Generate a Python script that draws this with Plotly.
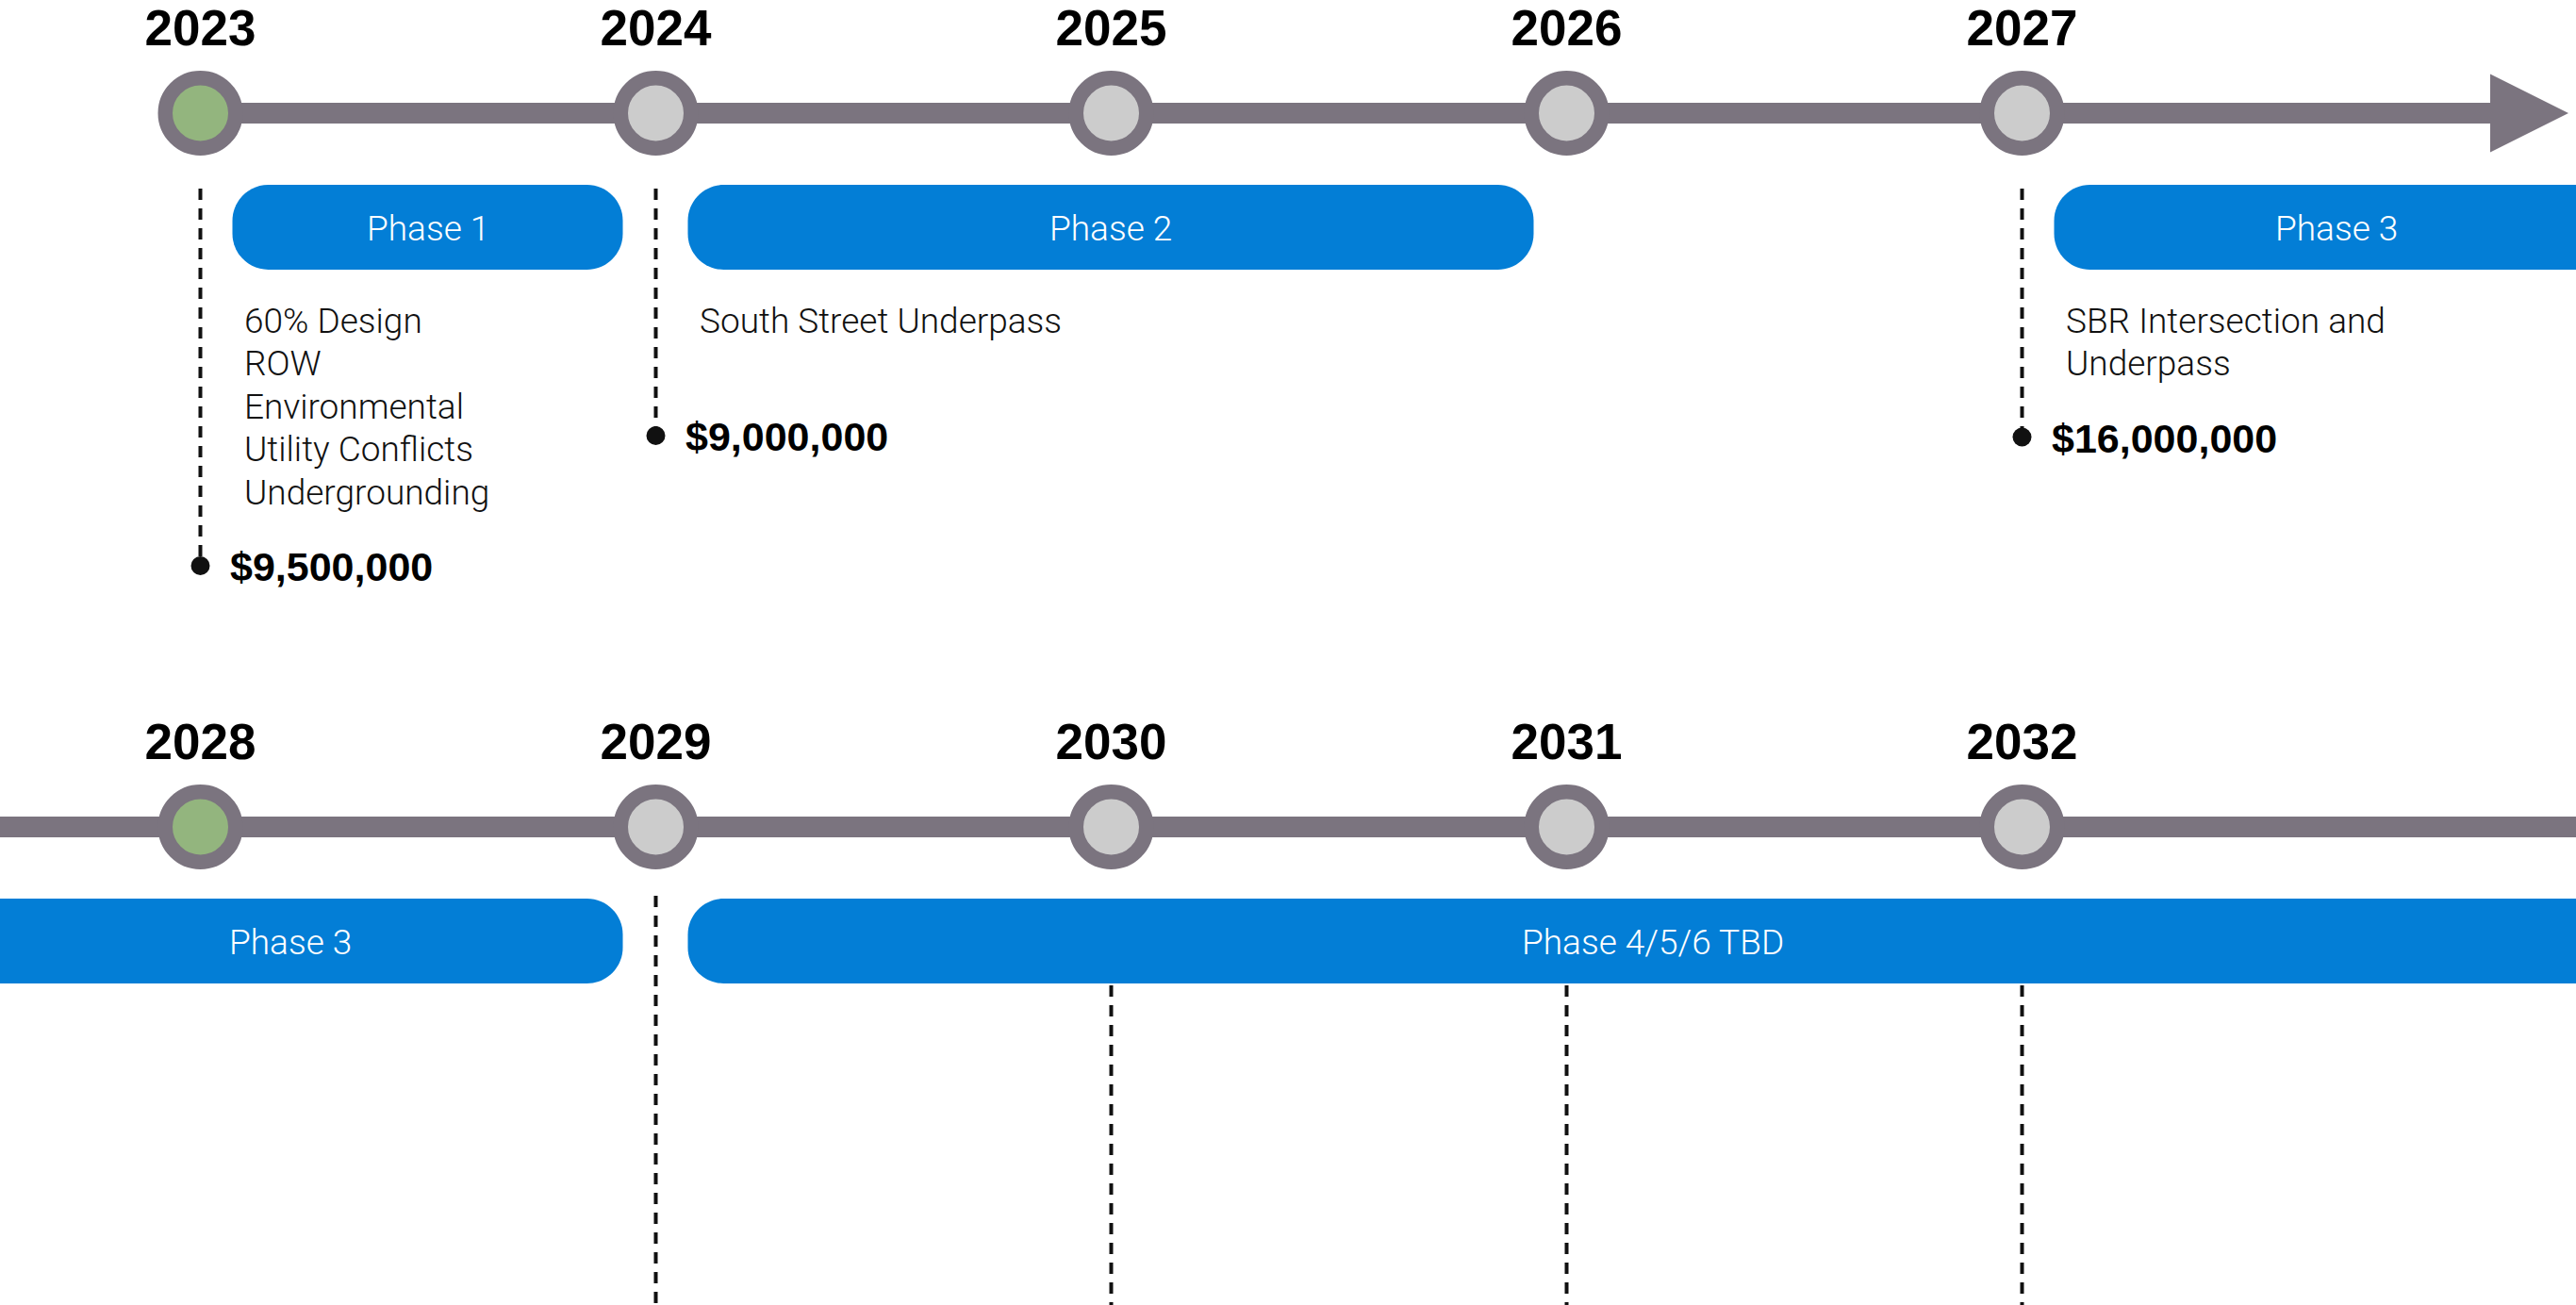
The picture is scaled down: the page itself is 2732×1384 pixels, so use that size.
import plotly.graph_objects as go

# 연도 / 단계 데이터
top_years = [2023, 2024, 2025, 2026, 2027]
bottom_years = [2028, 2029, 2030, 2031, 2032]
highlight_years = [2023, 2028]

phase_names = ["Phase 1", "Phase 2", "Phase 3", "Phase 4/5/6 TBD"]
phase_start = [2023, 2024, 2027, 2029]
phase_end = [2024, 2026, 2029, 2034]
phase_notes = [
    ["60% Design", "ROW", "Environmental", "Utility Conflicts", "Undergrounding"],
    ["South Street Underpass"],
    ["SBR Intersection and", "Underpass"],
    [],
]

cost_years = [2023, 2024, 2027]
cost_values = [9500000, 9000000, 16000000]

open_years = [2029, 2030, 2031, 2032]  # 점선이 페이지 아래로 이어지는 연도

# 레이아웃 상수 (픽셀)
W, H = 2732, 1384
PPY = 483          # px per year
FIRST_PX = 212.5   # 각 행 첫 연도 위치
ROW_Y = [120, 877]
NOTE_LINE = 45.5

GRAY = "#7b747f"
BLUE = "#037ed6"
GREEN = "#93b57e"
NODE = "#cccccc"
INK = "#111111"
BOLD = "Liberation Sans, Arial, sans-serif"
LIGHT = "Roboto, Liberation Sans, sans-serif"


def px(n):
    return n / PPY


def rounded_box(x0, x1, y0, y1, r):
    rx, ry = px(r), r
    k = 0.45
    return (
        f"M {x0 + rx},{y0} L {x1 - rx},{y0} "
        f"C {x1 - rx * k},{y0} {x1},{y0 + ry * k} {x1},{y0 + ry} "
        f"L {x1},{y1 - ry} "
        f"C {x1},{y1 - ry * k} {x1 - rx * k},{y1} {x1 - rx},{y1} "
        f"L {x0 + rx},{y1} "
        f"C {x0 + rx * k},{y1} {x0},{y1 - ry * k} {x0},{y1 - ry} "
        f"L {x0},{y0 + ry} "
        f"C {x0},{y0 + ry * k} {x0 + rx * k},{y0} {x0 + rx},{y0} Z"
    )


fig = go.Figure()
shapes = []
annotations = []

rows = [(top_years, "x"), (bottom_years, "x2")]
ranges = []

for r, (years, xa) in enumerate(rows):
    y = ROW_Y[r]
    lo = years[0] - px(FIRST_PX)
    hi = lo + px(W)
    ranges.append([lo, hi])

    # 타임라인 선
    if r == 0:
        base = hi - px(91)
        shapes.append(dict(type="line", xref=xa, yref="y", x0=years[0], x1=base + px(2),
                           y0=y, y1=y, line=dict(color=GRAY, width=22), layer="below"))
        tip = hi - px(8)
        shapes.append(dict(type="path", xref=xa, yref="y",
                           path=f"M {base},{y - 41.5} L {tip},{y} L {base},{y + 41.5} Z",
                           fillcolor=GRAY, line=dict(width=0), layer="below"))
    else:
        shapes.append(dict(type="line", xref=xa, yref="y", x0=lo, x1=hi,
                           y0=y, y1=y, line=dict(color=GRAY, width=22), layer="below"))

    # 단계 박스
    box_y0, box_y1 = y + 76, y + 166
    covered = []
    for i, name in enumerate(phase_names):
        x0 = max(phase_start[i] + px(34), lo - px(45))
        x1 = min(phase_end[i] - px(35), hi + px(45))
        if x1 <= x0:
            continue
        covered.append((x0, x1))
        shapes.append(dict(type="path", xref=xa, yref="y",
                           path=rounded_box(x0, x1, box_y0, box_y1, 38),
                           fillcolor=BLUE, line=dict(width=0), layer="below"))
        annotations.append(dict(x=(x0 + x1) / 2, y=(box_y0 + box_y1) / 2 + 1, xref=xa, yref="y",
                                text=name, showarrow=False,
                                font=dict(family=LIGHT, size=37, color="white", weight=300)))

        # 설명 텍스트 (줄 간격 고정)
        if phase_notes[i] and years[0] <= phase_start[i] <= years[-1]:
            for j, line in enumerate(phase_notes[i]):
                annotations.append(dict(x=phase_start[i], xshift=44, xanchor="left",
                                        y=y + 220 + j * NOTE_LINE, yanchor="middle",
                                        xref=xa, yref="y", align="left",
                                        text=line, showarrow=False,
                                        font=dict(family=LIGHT, size=37, color=INK, weight=300)))

    # 비용 리더선
    for cy, cv in zip(cost_years, cost_values):
        if not (years[0] <= cy <= years[-1]):
            continue
        notes = phase_notes[phase_start.index(cy)]
        end_y = max(y + 220 + (len(notes) - 1) * NOTE_LINE + 78, y + 342)
        fig.add_trace(go.Scatter(x=[cy, cy], y=[y + 80, end_y], xaxis=xa, mode="lines",
                                 line=dict(color=INK, width=4, dash="12px,9px"),
                                 hoverinfo="skip"))
        fig.add_trace(go.Scatter(x=[cy], y=[end_y], xaxis=xa, mode="markers",
                                 marker=dict(size=20, color=INK), hoverinfo="skip"))
        annotations.append(dict(x=cy, xshift=29, xanchor="left", y=end_y + 1, yanchor="middle",
                                xref=xa, yref="y", text=f"${cv:,.0f}", showarrow=False,
                                font=dict(family=BOLD, size=43, color="black", weight="bold")))

    # 아래로 열린 리더선
    for oy in open_years:
        if not (years[0] <= oy <= years[-1]):
            continue
        start = y + 73
        if any(a <= oy <= b for a, b in covered):
            start = box_y1 + 2
        fig.add_trace(go.Scatter(x=[oy, oy], y=[start, H + 10], xaxis=xa, mode="lines",
                                 line=dict(color=INK, width=4, dash="12px,9px"),
                                 hoverinfo="skip"))

    # 연도 노드
    fig.add_trace(go.Scatter(
        x=years, y=[y] * len(years), xaxis=xa, mode="markers",
        marker=dict(size=74.5, color=[GREEN if v in highlight_years else NODE for v in years],
                    line=dict(color=GRAY, width=15.5)),
        hoverinfo="skip"))

    # 연도 라벨
    fig.add_trace(go.Scatter(
        x=years, y=[y - 85] * len(years), xaxis=xa, mode="text",
        text=[str(v) for v in years], textposition="middle center",
        textfont=dict(family=BOLD, size=53, color="black", weight="bold"),
        cliponaxis=False, hoverinfo="skip"))

fig.update_layout(
    width=W, height=H,
    margin=dict(l=0, r=0, t=0, b=0),
    paper_bgcolor="white", plot_bgcolor="white",
    showlegend=False,
    xaxis=dict(range=ranges[0], visible=False, fixedrange=True),
    xaxis2=dict(range=ranges[1], visible=False, overlaying="x", fixedrange=True),
    yaxis=dict(range=[H, 0], visible=False, fixedrange=True),
    shapes=shapes,
    annotations=annotations,
)

fig.write_html("out.html", config=dict(displayModeBar=False),
               post_script="document.body.style.margin='0';")
